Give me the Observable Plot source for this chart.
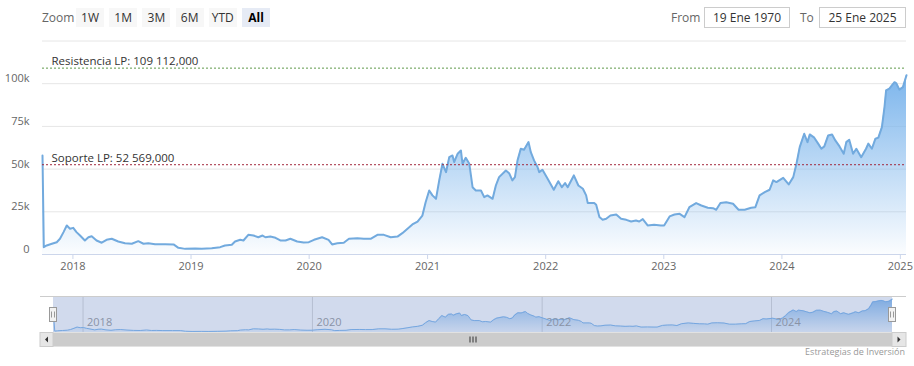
<!DOCTYPE html>
<html>
<head>
<meta charset="utf-8">
<script src="https://cdn.jsdelivr.net/npm/d3@7"></script>
<script src="https://cdn.jsdelivr.net/npm/@observablehq/plot@0.6"></script>
<style>
  html, body { margin: 0; padding: 0; background: #fff; }
  body { width: 914px; height: 366px; position: relative; overflow: hidden; font-family: "Open Sans", "Noto Sans", sans-serif; }
  .abs { position: absolute; }
  .lbl { color: #666; font-size: 12px; line-height: 19px; }
  .btn { position: absolute; top: 8px; height: 19px; width: 28px; background: #f7f7f7; color: #333; font-size: 12px; line-height: 19px; text-align: center; }
  .btn.sel { background: #e6ebf5; color: #000; font-weight: bold; }
  .inp { position: absolute; top: 7px; height: 19px; border: 1px solid #cccccc; color: #333; font-size: 12px; line-height: 19px; text-align: center; background: #fff; }
  #credits { position: absolute; right: 9px; top: 345px; font-size: 9px; color: #999; }
</style>
</head>
<body>
<div id="main" class="abs" style="left:0;top:0"></div>
<div id="nav" class="abs" style="left:0;top:296px"></div>
<div id="hdr"></div>
<div id="credits"></div>
<script>
// ---------- data ----------
const dates = ["2017-09-29","2017-10-03","2017-10-12","2017-10-28","2017-11-12","2017-11-22","2017-12-03","2017-12-13","2017-12-23","2018-01-02",
"2018-01-12","2018-01-23","2018-02-07","2018-02-18","2018-02-28","2018-03-15","2018-03-31","2018-04-15","2018-05-01","2018-05-21",
"2018-06-11","2018-07-02","2018-07-22","2018-08-07","2018-08-22","2018-09-12","2018-10-13","2018-11-08","2018-11-23","2018-12-14",
"2019-01-14","2019-02-03","2019-03-06","2019-04-01","2019-04-16","2019-05-07","2019-05-17","2019-06-02","2019-06-12","2019-06-27",
"2019-07-13","2019-07-28","2019-08-10","2019-08-19","2019-09-03","2019-09-19","2019-10-04","2019-10-20","2019-11-04","2019-11-25",
"2019-12-15","2019-12-31","2020-01-16","2020-02-10","2020-03-01","2020-03-12","2020-03-28","2020-04-17","2020-05-03","2020-05-29",
"2020-06-18","2020-07-09","2020-07-30","2020-08-19","2020-09-09","2020-09-30","2020-10-15","2020-10-31","2020-11-15","2020-12-01",
"2020-12-16","2020-12-26","2021-01-06","2021-01-16","2021-01-27","2021-02-06","2021-02-16","2021-02-27","2021-03-09","2021-03-19",
"2021-03-24","2021-04-04","2021-04-14","2021-04-19","2021-04-29","2021-05-10","2021-05-20","2021-05-30","2021-06-15","2021-06-25",
"2021-07-05","2021-07-21","2021-07-31","2021-08-10","2021-08-31","2021-09-10","2021-09-20","2021-09-28","2021-10-06","2021-10-16",
"2021-10-26","2021-10-31","2021-11-09","2021-11-16","2021-11-26","2021-12-07","2021-12-12","2021-12-22","2022-01-07","2022-01-26",
"2022-02-09","2022-02-20","2022-03-02","2022-03-10","2022-03-29","2022-04-12","2022-04-26","2022-05-06","2022-05-11","2022-05-31",
"2022-06-06","2022-06-16","2022-06-26","2022-07-07","2022-07-20","2022-08-07","2022-08-22","2022-09-07","2022-09-22","2022-10-07",
"2022-10-17","2022-10-28","2022-11-12","2022-12-02","2022-12-23","2023-01-02","2023-01-19","2023-02-03","2023-02-19","2023-03-06",
"2023-03-21","2023-04-11","2023-04-27","2023-05-17","2023-06-02","2023-06-12","2023-06-25","2023-07-13","2023-08-03","2023-08-20",
"2023-09-08","2023-09-28","2023-10-11","2023-10-24","2023-11-09","2023-11-24","2023-12-05","2023-12-15","2024-01-05","2024-01-22",
"2024-02-05","2024-02-15","2024-02-25","2024-03-10","2024-03-20","2024-03-27","2024-04-10","2024-04-22","2024-05-02","2024-05-11",
"2024-05-23","2024-06-04","2024-06-14","2024-06-27","2024-07-10","2024-07-18","2024-07-27","2024-08-08","2024-08-18","2024-09-02",
"2024-09-17","2024-09-24","2024-10-05","2024-10-16","2024-10-25","2024-11-05","2024-11-13","2024-11-18","2024-11-28","2024-12-14",
"2024-12-19","2024-12-29","2025-01-09","2025-01-20"];

const prices = [58000,4300,5300,6300,7200,9200,13100,17000,15100,15600,
13100,11100,8200,10100,10700,8200,6900,8600,9200,7600,
6600,6300,7800,6300,6600,6000,6000,5900,3900,3300,
3500,3300,3700,4300,5300,5700,7600,8600,8200,11500,
11100,10100,11100,10100,10500,9800,8200,8200,9200,7600,
7000,7200,8600,10100,8600,5900,6600,6900,9200,9500,
9200,9200,11500,11500,10100,10500,12500,15100,17600,19300,
22800,30600,37500,34600,32600,43400,53100,48200,57000,58000,
54100,59000,60900,53100,56600,53100,39400,37500,37500,33600,
34600,32600,40400,45300,49200,47600,43400,45300,55100,61900,
61300,62900,65800,59900,55100,51100,48200,49600,44300,37900,
42900,39400,41800,39400,46300,40400,38500,34600,30100,30100,
29100,21900,20300,20900,22800,23400,20900,20300,19300,19900,
19300,20700,17000,17400,17000,17000,22300,23400,23800,21900,
27700,30100,28700,27400,27100,26200,30100,30600,29700,26200,
26200,27400,27700,34600,36500,37900,43400,42400,44900,41000,
45300,53100,62900,70700,65800,70300,68400,64900,61900,63300,
69700,70300,66800,63300,59000,65800,67200,59000,61900,57000,
61900,64900,61900,67800,68400,74600,86300,96100,97100,100900,
100400,96500,98000,104900];

const yTicks = [0, 25000, 50000, 75000, 100000];
const yTickLabels = ["0", "25k", "50k", "75k", "100k"];
const yGrid = [0, 25000, 50000, 75000, 100000, 125000];
const xTickYears = [2018, 2019, 2020, 2021, 2022, 2023, 2024, 2025];
const navTickYears = [2018, 2020, 2022, 2024];
const levelValues = [109112, 52569];
const levelLabels = ["Resistencia LP: 109 112,000", "Soporte LP: 52 569,000"];
const levelColors = ["#5f9a4a", "#a3293e"];
const zoomButtons = ["1W", "1M", "3M", "6M", "YTD", "All"];
const selectedButton = "All";
const fromLabel = "From", toLabel = "To";
const fromDate = "19 Ene 1970", toDate = "25 Ene 2025";
const creditsText = "Estrategias de Inversión";

// ---------- build ----------
const FONT = '"Open Sans", "Noto Sans", sans-serif';
const n = Math.min(dates.length, prices.length);
const data = d3.range(n).map(i => ({date: new Date(dates[i] + "T00:00:00Z"), price: prices[i]}));
const x0 = data[0].date, x1 = data[n - 1].date;
const yearDate = y => new Date(Date.UTC(y, 0, 1));
const levels = levelValues.map((v, i) => ({v, label: levelLabels[i], color: levelColors[i]}));

function gradientDefs(id, top, bottom) {
  return () => {
    const defs = d3.create("svg:defs");
    const lg = defs.append("linearGradient").attr("id", id)
      .attr("x1", 0).attr("y1", 0).attr("x2", 0).attr("y2", 1);
    lg.append("stop").attr("offset", "0").attr("stop-color", "#7cb5ec").attr("stop-opacity", top);
    lg.append("stop").attr("offset", "1").attr("stop-color", "#7cb5ec").attr("stop-opacity", bottom);
    return defs.node();
  };
}

const main = Plot.plot({
  width: 914, height: 366,
  marginLeft: 42, marginRight: 8, marginTop: 40.5, marginBottom: 112,
  x: {type: "utc", domain: [x0, x1]},
  y: {domain: [0, 125000]},
  style: {fontFamily: FONT, fontSize: "11px", color: "#666", background: "transparent", overflow: "visible"},
  marks: [
    gradientDefs("mainGrad", 1, 0.03),
    Plot.ruleY(yGrid, {stroke: "#e6e6e6", strokeOpacity: 1}),
    Plot.areaY(data, {x: "date", y: "price", fill: "url(#mainGrad)"}),
    Plot.lineY(data, {x: "date", y: "price", stroke: "#72aade", strokeWidth: 2}),
    Plot.ruleY(levels, {y: "v", stroke: "color", strokeWidth: 1, strokeDasharray: "2,2", strokeOpacity: 1}),
    Plot.text(levels, {x: () => x0, y: "v", text: "label", textAnchor: "start", lineAnchor: "bottom",
      dx: 9, dy: -3, fill: "#333", fontSize: 11.5}),
    Plot.ruleY([0], {stroke: "#ccd6eb", strokeOpacity: 1}),
    Plot.axisX(xTickYears.map(yearDate), {tickFormat: d => String(d.getUTCFullYear()), tickSize: 5, tickPadding: 3,
      stroke: "#ccd6eb", strokeOpacity: 1, fill: "#666", fontSize: 11}),
    Plot.axisY(yTicks, {tickFormat: d => yTickLabels[yTicks.indexOf(d)], tickSize: 0, tickPadding: 13,
      dy: -5, fill: "#666", fontSize: 11})
  ]
});
document.getElementById("main").appendChild(main);

function navChrome(index, scales, values, dim) {
  const g = d3.create("svg:g");
  const xa = scales.x(x0), xb = scales.x(x1);
  const left = xa - 13, right = xb + 14;
  const top = dim.marginTop, bot = dim.height - dim.marginBottom;
  // outline
  g.append("line").attr("x1", left).attr("x2", right).attr("y1", top - 0.5).attr("y2", top - 0.5)
    .attr("stroke", "#cccccc");
  // scrollbar track & thumb
  const sy = bot + 0.5, sh = 14;
  g.append("rect").attr("x", left).attr("y", sy).attr("width", right - left).attr("height", sh).attr("fill", "#f2f2f2");
  g.append("rect").attr("x", xa).attr("y", sy).attr("width", xb - xa).attr("height", sh).attr("fill", "#cccccc");
  const cx = (xa + xb) / 2;
  for (const d of [-3, 0, 3]) {
    g.append("line").attr("x1", cx + d + 0.5).attr("x2", cx + d + 0.5).attr("y1", sy + 4).attr("y2", sy + 10)
      .attr("stroke", "#333").attr("stroke-width", 1);
  }
  // arrow buttons
  g.append("rect").attr("x", left).attr("y", sy).attr("width", xa - left).attr("height", sh).attr("fill", "#e6e6e6").attr("stroke", "#cccccc");
  g.append("rect").attr("x", xb).attr("y", sy).attr("width", right - xb).attr("height", sh).attr("fill", "#e6e6e6").attr("stroke", "#cccccc");
  const lc = (left + xa) / 2, rc = (xb + right) / 2, my = sy + sh / 2;
  g.append("path").attr("d", `M${lc + 1.5},${my - 3}L${lc - 1.5},${my}L${lc + 1.5},${my + 3}Z`).attr("fill", "#333");
  g.append("path").attr("d", `M${rc - 1.5},${my - 3}L${rc + 1.5},${my}L${rc - 1.5},${my + 3}Z`).attr("fill", "#333");
  // handles
  const hy = (top + bot) / 2 - 7;
  for (const hx of [xa, xb]) {
    g.append("rect").attr("x", Math.round(hx) - 3.5).attr("y", hy).attr("width", 7).attr("height", 14)
      .attr("fill", "#f2f2f2").attr("stroke", "#999999");
    for (const d of [-1.5, 1.5]) {
      g.append("line").attr("x1", Math.round(hx) + d).attr("x2", Math.round(hx) + d)
        .attr("y1", hy + 4).attr("y2", hy + 10).attr("stroke", "#999999");
    }
  }
  return g.node();
}

const nav = Plot.plot({
  width: 914, height: 52,
  marginLeft: 53, marginRight: 22, marginTop: 1, marginBottom: 16,
  x: {type: "utc", domain: [x0, x1], axis: null},
  y: {domain: [0, 110000], axis: null},
  style: {fontFamily: FONT, fontSize: "11px", color: "#666", background: "transparent", overflow: "visible"},
  marks: [
    gradientDefs("navGrad", 0.9, 0.1),
    Plot.ruleX(navTickYears.map(yearDate), {stroke: "#d8d8d8", strokeOpacity: 1}),
    Plot.areaY(data, {x: "date", y: "price", fill: "url(#navGrad)"}),
    Plot.lineY(data, {x: "date", y: "price", stroke: "#7cb5ec", strokeWidth: 1}),
    Plot.text(navTickYears.map(yearDate), {x: d => d, frameAnchor: "bottom", dy: -7, dx: 4, textAnchor: "start",
      text: d => String(d.getUTCFullYear()), fill: "#999", fontSize: 11}),
    Plot.rect([{a: x0, b: x1}], {x1: "a", x2: "b", fill: "rgb(102,133,194)", fillOpacity: 0.3}),
    navChrome
  ]
});
document.getElementById("nav").appendChild(nav);

// ---------- header (range selector / inputs) ----------
const hdr = d3.select("#hdr");
hdr.append("div").attr("class", "abs lbl").style("left", "42px").style("top", "8px").text("Zoom");
zoomButtons.forEach((b, i) => {
  hdr.append("div").attr("class", "btn" + (b === selectedButton ? " sel" : ""))
    .style("left", (76 + i * 33.2) + "px").text(b);
});
hdr.append("div").attr("class", "abs lbl").style("left", "671px").style("top", "8px").text(fromLabel);
hdr.append("div").attr("class", "inp").style("left", "704px").style("width", "84px").text(fromDate);
hdr.append("div").attr("class", "abs lbl").style("left", "800px").style("top", "8px").text(toLabel);
hdr.append("div").attr("class", "inp").style("left", "819px").style("width", "85px").text(toDate);
document.getElementById("credits").textContent = creditsText;
</script>
</body>
</html>
